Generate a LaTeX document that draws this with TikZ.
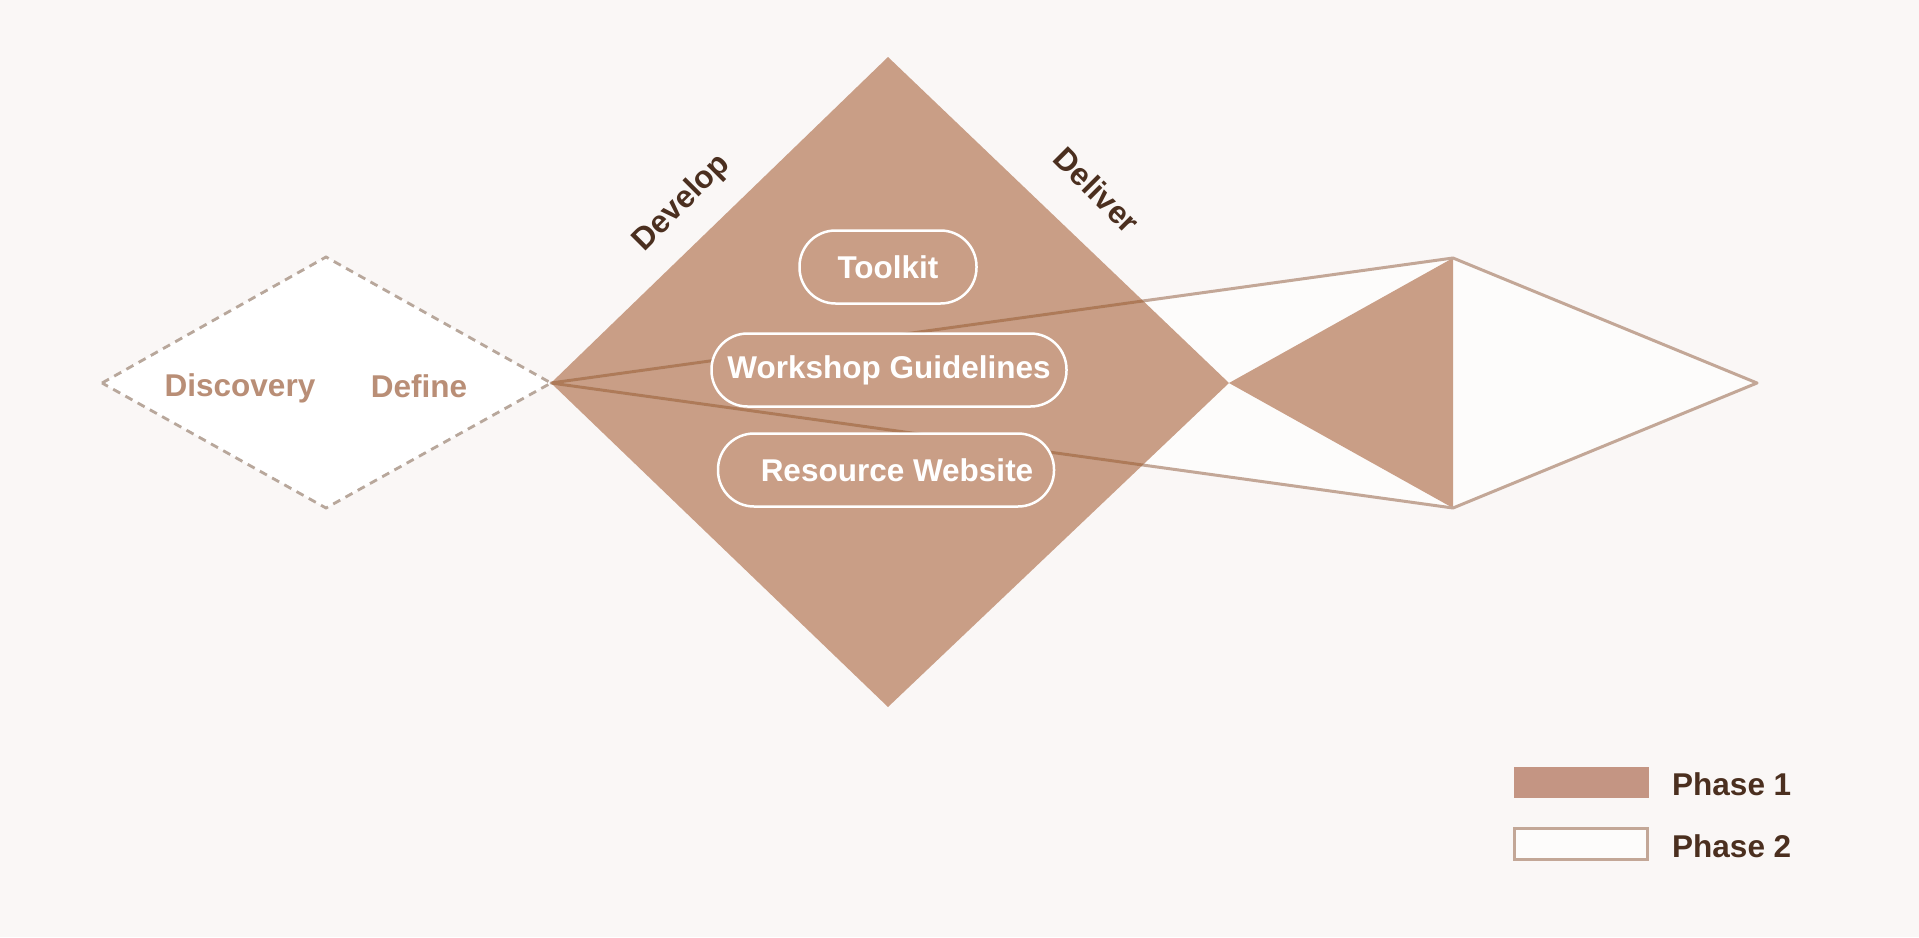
\documentclass[tikz,border=0pt]{standalone}
\usepackage{fontspec}
\setmainfont{Liberation Sans}
\definecolor{bg}{HTML}{FAF7F6}
\definecolor{fillc}{HTML}{C99E86}
\definecolor{legfill}{HTML}{C49583}
\definecolor{linec}{HTML}{C3A797}
\definecolor{darkline}{HTML}{AE7A58}
\definecolor{dashc}{HTML}{B8A79B}
\definecolor{lighttext}{HTML}{B98E76}
\definecolor{darktext}{HTML}{4B2F1F}
\begin{document}
\begin{tikzpicture}[x=1pt,y=-1pt,
  pill/.style={draw=white, line width=2.5pt, rounded corners=36pt, fill=fillc,
    minimum height=73pt, inner sep=0pt, text=white, font=\fontsize{31.5}{31.5}\selectfont\bfseries},
  lbl/.style={font=\fontsize{31.5}{31.5}\selectfont\bfseries, inner sep=0pt},
  outl/.style={draw=linec, line width=3pt, line join=round},
  legbox/.style={minimum width=135pt, minimum height=31pt, inner sep=0pt}]
\fill[bg] (0,0) rectangle (1919,937);
\useasboundingbox (0,0) rectangle (1919,937);
% coordinates
\coordinate (dL) at (102,383);
\coordinate (dT) at (326,257);
\coordinate (dR) at (551,383);
\coordinate (dB) at (326,508);
\coordinate (gT) at (888,57);
\coordinate (gR) at (1229,383);
\coordinate (gB) at (888,707);
\coordinate (kT) at (1453,258);
\coordinate (kB) at (1453,508);
\coordinate (kR) at (1757,383);
% dashed diamond (Discovery / Define)
\draw[dashc, fill=white, line width=2.8pt, dash pattern=on 8pt off 6pt] (dL) -- (dT) -- (dR) -- (dB) -- cycle;
% phase 2 kite
\fill[white!60!bg] (dR) -- (kT) -- (kR) -- (kB) -- cycle;
% big diamond
\fill[fillc] (dR) -- (gT) -- (gR) -- (gB) -- cycle;
% filled triangle
\fill[fillc] (gR) -- (kT) -- (kB) -- cycle;
% outline of phase 2
\draw[outl] (dR) -- (kT) -- (kR) -- (kB) -- cycle;
\begin{scope}
  \clip (dR) -- (gT) -- (gR) -- (gB) -- cycle;
  \draw[darkline, line width=3pt] (dR) -- (kT);
  \draw[darkline, line width=3pt] (dR) -- (kB);
\end{scope}
% pills
\node[pill, minimum width=177pt] (toolkit) at (888,267) {Toolkit};
\node[pill, minimum width=355pt] (workshop) at (889,370) {Workshop Guidelines};
\node[pill, minimum width=336pt] (resource) at (886,470) {\hspace{22pt}Resource Website};
% labels
\node[lbl, text=lighttext] (discovery) at (240,388) {Discovery};
\node[lbl, text=lighttext] (define) at (419,386) {Define};
\node[lbl, text=darktext, rotate=45] (develop) at (682,203) {Develop};
\node[lbl, text=darktext, rotate=-45] (deliver) at (1097,190) {Deliver};
% legend
\node[legbox, fill=legfill] (leg1) at (1581,782) {};
\node[legbox, draw=linec, line width=3.5pt, fill=white!60!bg, minimum width=133pt, minimum height=31pt] (leg2) at (1581,844) {};
\node[lbl, text=darktext, anchor=west] (p1) at (1672,784) {Phase 1};
\node[lbl, text=darktext, anchor=west] (p2) at (1672,846) {Phase 2};
\end{tikzpicture}
\end{document}
